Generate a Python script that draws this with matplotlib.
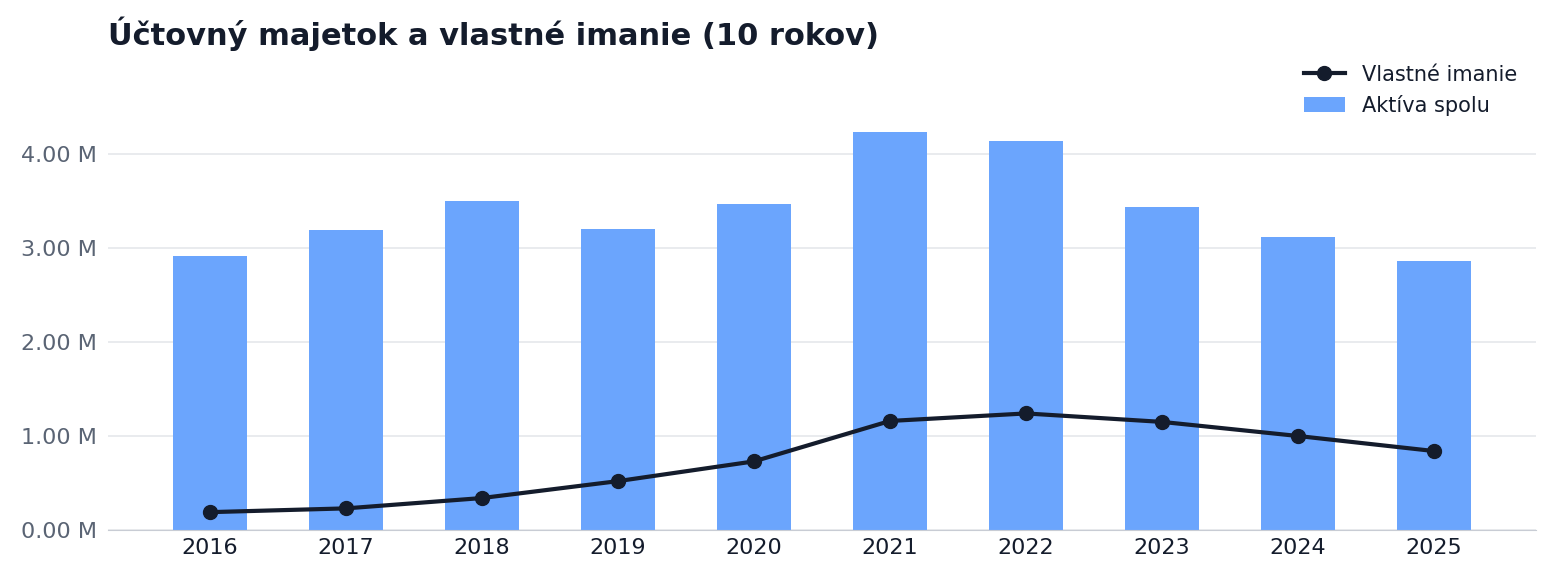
import matplotlib.pyplot as plt
from matplotlib.ticker import FuncFormatter

years = ["2016", "2017", "2018", "2019", "2020", "2021", "2022", "2023", "2024", "2025"]
assets = [2.915, 3.19, 3.50, 3.20, 3.47, 4.23, 4.14, 3.44, 3.12, 2.86]
equity = [0.19, 0.23, 0.34, 0.52, 0.73, 1.16, 1.24, 1.15, 1.00, 0.84]

fig = plt.figure(figsize=(15.51, 5.76), dpi=100)
ax = fig.add_axes([108 / 1551, 46 / 576, (1536 - 108) / 1551, (530 - 60) / 576])

x = range(len(years))
ax.bar(x, assets, width=0.55, color="#6ba5fd", label="Aktíva spolu", zorder=2)
ax.plot(x, equity, color="#141c2c", lw=3, marker="o", ms=10, label="Vlastné imanie", zorder=3)

ax.set_xticks(list(x))
ax.set_xticklabels(years, fontsize=16, color="#141c2c")
ax.set_xlim(-0.75, 9.75)
ax.set_ylim(0, (530 - 60) / 94)
ax.set_yticks([0, 1, 2, 3, 4])
ax.yaxis.set_major_formatter(FuncFormatter(lambda v, p: f"{v:.2f} M"))
ax.tick_params(axis="y", labelsize=16, labelcolor="#5a6474", length=0, pad=8)
ax.tick_params(axis="x", length=0, pad=6)
ax.grid(axis="y", color="#e5e7eb", lw=1.2, zorder=0)
for s in ["top", "right", "left"]:
    ax.spines[s].set_visible(False)
ax.spines["bottom"].set_color("#c8ccd4")

h, l = ax.get_legend_handles_labels()
ax.legend(h, l, loc="upper right", bbox_to_anchor=(1.0, 1.03), frameon=False, fontsize=15,
          labelcolor="#141c2c")

fig.text(108 / 1551, 1 - 34 / 576, "Účtovný majetok a vlastné imanie (10 rokov)",
         fontsize=22, fontweight="bold", color="#141c2c", va="center")

fig.savefig("out.png", dpi=100)
